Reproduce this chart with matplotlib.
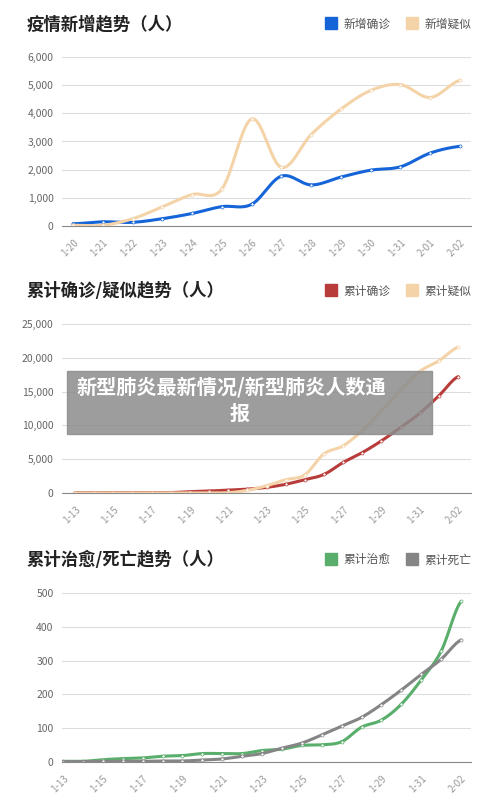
import numpy as np
import matplotlib
matplotlib.use('Agg')
import matplotlib.pyplot as plt
from matplotlib.lines import Line2D
from matplotlib.patches import Rectangle

plt.rcParams['font.family'] = ['Noto Sans CJK SC', 'DejaVu Sans']

# data
days1 = ['1-20', '1-21', '1-22', '1-23', '1-24', '1-25', '1-26', '1-27',
         '1-28', '1-29', '1-30', '1-31', '2-01', '2-02']
new_confirmed = [77, 149, 131, 259, 444, 688, 769, 1771, 1459, 1737, 1982, 2102, 2590, 2829]
new_suspected = [27, 26, 257, 680, 1118, 1309, 3806, 2077, 3248, 4148, 4812, 5019, 4562, 5173]

days2 = ['1-13', '1-14', '1-15', '1-16', '1-17', '1-18', '1-19', '1-20', '1-21', '1-22',
         '1-23', '1-24', '1-25', '1-26', '1-27', '1-28', '1-29', '1-30', '1-31', '2-01', '2-02']
cum_confirmed = [41, 41, 41, 41, 45, 62, 198, 291, 440, 571, 830, 1287, 1975, 2744,
                 4515, 5974, 7711, 9692, 11791, 14380, 17205]
cum_suspected = [0, 0, 0, 0, 0, 0, 0, 0, 37, 393, 1072, 1965, 2684, 5794,
                 6973, 9239, 12167, 15238, 17988, 19544, 21558]
cum_cured = [2, 2, 7, 10, 12, 17, 19, 25, 25, 25, 34, 38, 49, 51, 60, 103, 124, 171, 243, 328, 475]
cum_dead = [1, 1, 2, 2, 2, 3, 3, 6, 9, 17, 25, 41, 56, 80, 106, 132, 170, 213, 259, 304, 361]


def smooth(y, n=12):
    # catmull-rom through the points
    y = np.asarray(y, float)
    p = np.concatenate([[y[0]], y, [y[-1]]])
    xs, ys = [], []
    for i in range(len(y) - 1):
        p0, p1, p2, p3 = p[i], p[i + 1], p[i + 2], p[i + 3]
        t = np.linspace(0, 1, n, endpoint=False)
        v = 0.5 * (2 * p1 + (-p0 + p2) * t + (2 * p0 - 5 * p1 + 4 * p2 - p3) * t ** 2
                   + (-p0 + 3 * p1 - 3 * p2 + p3) * t ** 3)
        xs.append(i + t)
        ys.append(v)
    xs.append([len(y) - 1])
    ys.append([y[-1]])
    return np.concatenate(xs), np.concatenate(ys)


W, H = 500, 805
fig = plt.figure(figsize=(5, 8.05), dpi=100)


def panel(top, bottom, title, names, colors, series, labels, ymax, ystep, xlim, tickstep):
    ax = fig.add_axes([62 / W, 1 - bottom / H, 409 / W, (bottom - top) / H])
    for s, c in zip(series, colors):
        xs, ys = smooth(s)
        ax.plot(xs, ys, color=c, lw=2.2, solid_capstyle='round')
        ax.plot(range(len(s)), s, 'o', ms=2.2, mfc='white', mec=c, mew=0.5)
    ax.set_ylim(0, ymax)
    ax.set_xlim(*xlim)
    ax.set_yticks(np.arange(0, ymax + 1, ystep))
    ax.set_yticklabels([f'{v:,}' for v in np.arange(0, ymax + 1, ystep)])
    ax.set_xticks(range(0, len(labels), tickstep))
    ax.set_xticklabels(labels[::tickstep], rotation=45, ha='right', rotation_mode='anchor')
    ax.tick_params(axis='y', length=0, labelsize=7.5, colors='#666666', pad=6)
    ax.tick_params(axis='x', length=0, labelsize=7, colors='#999999', pad=8)
    ax.grid(axis='y', color='#dddddd', lw=0.8)
    ax.set_axisbelow(True)
    for k in ['top', 'right', 'left']:
        ax.spines[k].set_visible(False)
    ax.spines['bottom'].set_color('#888888')
    fig.text(27 / W, 1 - (top - 33) / H, title, fontsize=12.5, fontweight='bold',
             color='#222222', va='center')
    handles = [Line2D([], [], marker='s', ls='', ms=9, color=c) for c in colors]
    fig.legend(handles, names, loc='center right', ncol=2, frameon=False,
               bbox_to_anchor=(0.965, 1 - (top - 33) / H), fontsize=8.5,
               handletextpad=0.1, columnspacing=0.8, labelcolor='#555555')
    return ax


panel(57, 226, '疫情新增趋势（人）', ['新增确诊', '新增疑似'], ['#1565d8', '#f5d3a8'],
      [new_confirmed, new_suspected], days1, 6000, 1000, (-0.37, 13.37), 1)
panel(324, 493, '累计确诊/疑似趋势（人）', ['累计确诊', '累计疑似'], ['#b83c3a', '#f5d3a8'],
      [cum_confirmed, cum_suspected], days2, 25000, 5000, (-0.68, 20.68), 2)
panel(593, 762, '累计治愈/死亡趋势（人）', ['累计治愈', '累计死亡'], ['#5aae6c', '#858585'],
      [cum_cured, cum_dead], days2, 500, 100, (-0.05, 20.5), 2)

# overlay banner
fig.patches.append(Rectangle((67 / W, 1 - 434 / H), 365 / W, 63 / H, transform=fig.transFigure,
                             color='#8c8c8c', alpha=0.85, zorder=10))
fig.text(76 / W, 1 - 387 / H, '新型肺炎最新情况/新型肺炎人数通', fontsize=14.5, fontweight='bold',
         color='white', va='center', zorder=11)
fig.text(240 / W, 1 - 413 / H, '报', fontsize=14.5, fontweight='bold',
         color='white', va='center', ha='center', zorder=11)

fig.savefig('out.png', dpi=100)
